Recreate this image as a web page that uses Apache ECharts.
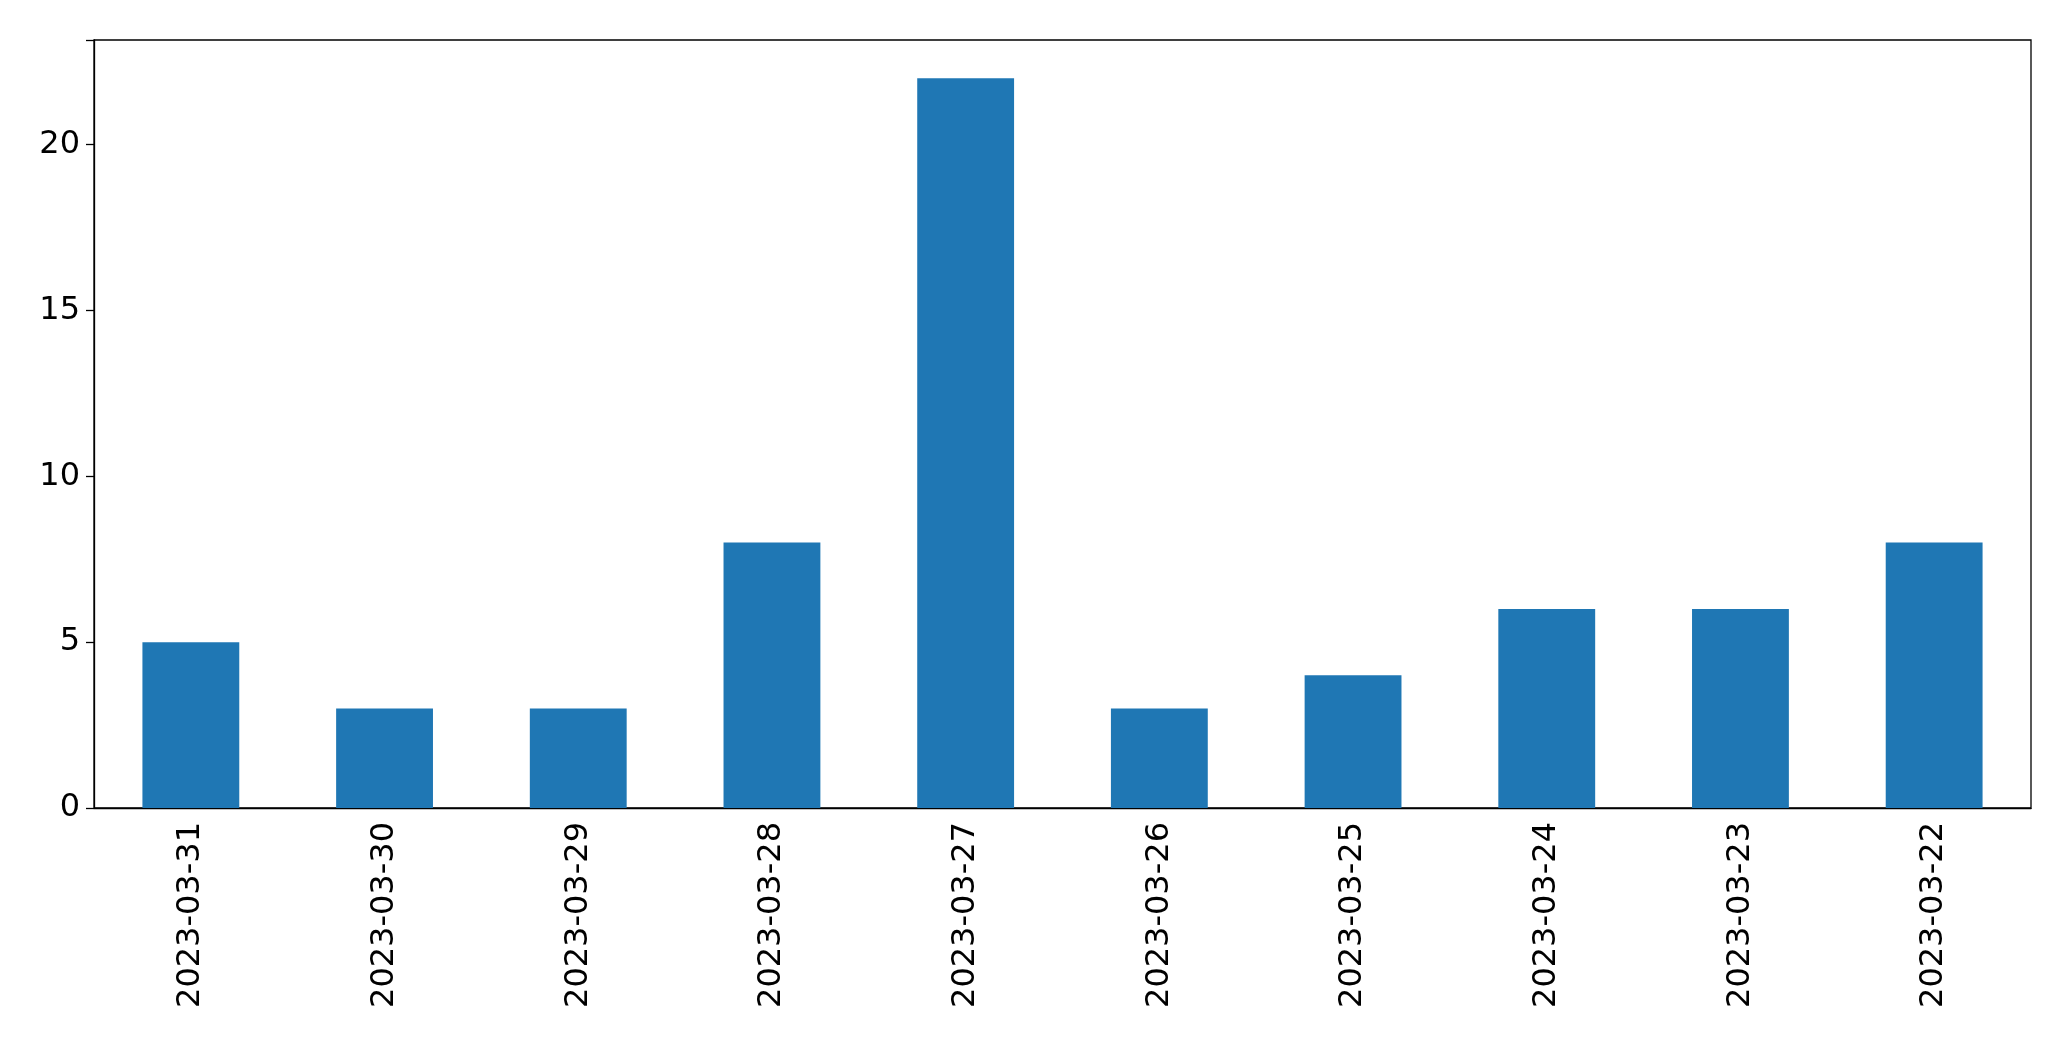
<!DOCTYPE html>
<html><head><meta charset="utf-8">
<script src="https://cdn.jsdelivr.net/npm/echarts@6/dist/echarts.min.js"></script>
<style>html,body{margin:0;padding:0;background:#fff}#c{width:2071px;height:1061px}</style>
</head><body><div id="c"></div>
<script>
const categories = ["2023-03-31","2023-03-30","2023-03-29","2023-03-28","2023-03-27","2023-03-26","2023-03-25","2023-03-24","2023-03-23","2023-03-22"];
const values = [5,3,3,8,22,3,4,6,6,8];
const yTicks = [0,5,10,15,20];
const chart = echarts.init(document.getElementById('c'));
chart.setOption({
  animation:false,
  grid:{left:94,right:40,top:40,bottom:253,containLabel:false},
  xAxis:{type:'category',data:categories,
    axisLine:{lineStyle:{color:'#000',width:1.3}},
    axisTick:{alignWithLabel:true,length:8,lineStyle:{color:'#000',width:1.3}},
    axisLabel:{rotate:90,fontSize:32,color:'#000',fontFamily:'DejaVu Sans',margin:14}},
  yAxis:{type:'value',min:0,max:23.15,interval:5,
    axisLine:{show:true,lineStyle:{color:'#000',width:1.3}},
    axisTick:{show:true,length:8,lineStyle:{color:'#000',width:1.3}},
    splitLine:{show:false},
    axisLabel:{fontSize:32,color:'#000',fontFamily:'DejaVu Sans',margin:14,
      formatter:v=>yTicks.includes(v)?String(v):''}},
  series:[{type:'bar',data:values,barWidth:'50%',itemStyle:{color:'#1f77b4'}}],
  graphic:[{type:'rect',shape:{x:94,y:40,width:2071-94-40,height:1061-40-253},
    style:{fill:'none',stroke:'#000',lineWidth:1.3},silent:true}]
});
</script></body></html>
